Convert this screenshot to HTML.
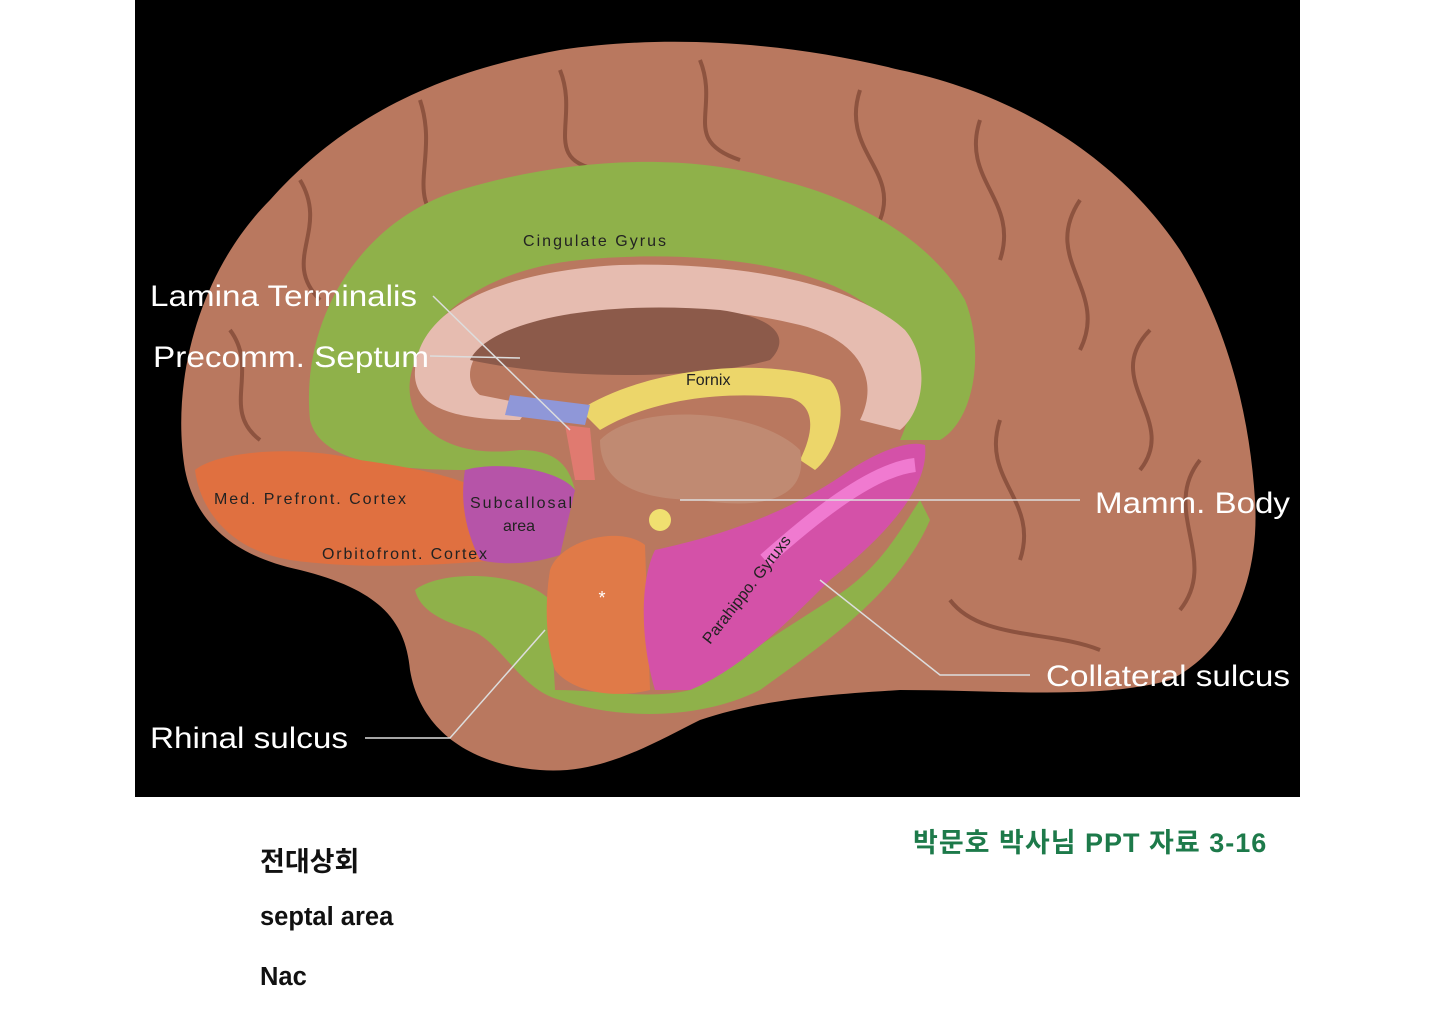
<!DOCTYPE html>
<html><head><meta charset="utf-8"><style>
body{margin:0;width:1440px;height:1018px;background:#fff;position:relative;overflow:hidden;font-family:"Liberation Sans","Noto Sans CJK KR",sans-serif}
svg{position:absolute;left:0;top:0}
.t{position:absolute;font-weight:bold;color:#111;font-family:"Liberation Sans","Noto Sans CJK KR",sans-serif}
</style></head><body>
<svg width="1440" height="1018" viewBox="0 0 1440 1018">
<rect x="135" y="0" width="1165" height="797" fill="#000"/>
<path d="M185,470 C170,380 200,270 270,200 C350,110 450,70 560,50 C660,35 780,40 900,70 C1020,95 1120,160 1180,250 C1230,330 1250,420 1255,500 C1260,580 1230,650 1170,680 C1100,700 1000,690 900,690 C820,695 760,700 700,720 C650,745 600,775 540,770 C470,765 420,730 410,670 C405,620 380,590 300,570 C230,555 195,520 185,470 Z" fill="#b9785f"/>
<g stroke="#7a4332" stroke-width="4" fill="none" opacity="0.7">
<path d="M300,180 C330,230 280,260 320,300"/><path d="M420,100 C440,160 400,200 450,230"/>
<path d="M560,70 C580,120 540,160 600,170"/><path d="M700,60 C720,110 680,140 740,160"/>
<path d="M860,90 C840,150 900,170 880,220"/><path d="M980,120 C960,180 1020,200 1000,260"/>
<path d="M1080,200 C1040,260 1110,290 1080,350"/><path d="M1150,330 C1100,380 1180,420 1140,470"/>
<path d="M1200,460 C1160,510 1220,560 1180,610"/><path d="M1000,420 C980,480 1040,500 1020,560"/>
<path d="M230,330 C260,370 220,410 260,440"/><path d="M950,600 C980,640 1050,630 1100,650"/>
</g>
<path d="M310,420 C300,320 360,220 460,190 C560,160 680,150 780,180 C860,200 930,240 965,300 C985,350 975,420 940,440 L900,440 C920,400 910,330 860,300 C800,260 680,250 580,260 C480,270 420,320 410,380 C405,420 440,460 520,450 C560,450 570,470 575,490 L470,470 C380,470 320,460 310,420 Z" fill="#8fb14a"/>
<path d="M415,370 C420,300 520,270 620,265 C730,262 850,280 905,330 C930,360 925,410 900,430 L860,420 C880,380 860,340 800,325 C700,300 580,305 510,330 C470,345 460,380 480,395 L530,405 L520,420 C460,420 412,410 415,370 Z" fill="#e6bcb0"/>
<path d="M470,360 C490,320 600,300 720,310 C780,318 790,340 770,360 C700,380 560,380 470,360 Z" fill="#8c5a4a"/>
<path d="M580,410 C640,370 760,355 830,380 C850,400 840,450 815,470 L800,460 C815,430 815,405 790,398 C720,390 650,400 600,430 Z" fill="#ecd66a"/>
<path d="M510,395 L590,405 L585,425 L505,415 Z" fill="#8f97d8"/>
<path d="M565,425 L590,428 L595,480 L575,480 Z" fill="#e07a70"/>
<path d="M600,440 C640,400 760,410 800,450 C810,500 760,510 700,500 C650,500 600,490 600,440 Z" fill="#c08a72"/>
<path d="M195,470 C220,450 300,445 360,460 C430,470 470,480 500,500 L500,560 C440,565 360,570 290,560 C230,550 200,510 195,470 Z" fill="#e07040"/>
<path d="M465,470 C500,460 560,470 575,490 L560,555 C530,565 500,565 480,560 C465,530 460,500 465,470 Z" fill="#b654a8"/>
<path d="M415,590 C440,570 520,570 550,600 L555,690 C600,690 650,700 690,690 L830,600 C880,570 900,530 920,500 L930,520 C900,590 830,640 760,690 C700,720 620,720 560,700 C520,690 500,640 470,630 C440,620 420,610 415,590 Z" fill="#8fb14a"/>
<path d="M550,570 C560,540 620,525 645,545 L650,690 C610,700 570,690 555,670 C545,640 545,600 550,570 Z" fill="#e07a48"/>
<path d="M655,550 C700,540 780,520 850,470 C880,450 910,440 925,445 C930,490 880,540 830,580 C790,620 740,670 690,690 L655,690 C640,640 640,580 655,550 Z" fill="#d451a8"/>
<path d="M765,560 C810,520 870,470 915,465" stroke="#f07ad0" stroke-width="14" fill="none"/>
<circle cx="660" cy="520" r="11" fill="#f0e070"/>
<text x="602" y="604" fill="#fff" font-size="18" text-anchor="middle">*</text>
<g stroke="#ddd" stroke-width="1.5" fill="none">
<line x1="433" y1="296" x2="570" y2="430"/>
<line x1="430" y1="356" x2="520" y2="358"/>
<line x1="680" y1="500" x2="1080" y2="500"/>
<polyline points="820,580 940,675 1030,675"/>
<polyline points="545,630 450,738 365,738"/>
</g>
<g font-family="Liberation Sans, sans-serif">
<text x="150" y="306" fill="#fff" font-size="30" textLength="267" lengthAdjust="spacingAndGlyphs">Lamina Terminalis</text>
<text x="153" y="367" fill="#fff" font-size="30" textLength="276" lengthAdjust="spacingAndGlyphs">Precomm. Septum</text>
<text x="1095" y="513" fill="#fff" font-size="30" textLength="195" lengthAdjust="spacingAndGlyphs">Mamm. Body</text>
<text x="1046" y="686" fill="#fff" font-size="30" textLength="244" lengthAdjust="spacingAndGlyphs">Collateral sulcus</text>
<text x="150" y="748" fill="#fff" font-size="30" textLength="198" lengthAdjust="spacingAndGlyphs">Rhinal sulcus</text>
<text x="523" y="246" fill="#222" font-size="16" textLength="143">Cingulate Gyrus</text>
<text x="686" y="385" fill="#222" font-size="16">Fornix</text>
<text x="214" y="504" fill="#222" font-size="16" textLength="192">Med. Prefront. Cortex</text>
<text x="322" y="559" fill="#222" font-size="16" textLength="165">Orbitofront. Cortex</text>
<text x="470" y="508" fill="#222" font-size="16" textLength="102">Subcallosal</text>
<text x="503" y="531" fill="#222" font-size="16">area</text>
<text x="0" y="0" fill="#222" font-size="16" transform="translate(710,645) rotate(-52)">Parahippo. Gyruxs</text>
</g>
</svg>
<div class="t" style="left:260px;top:840px;font-size:27px">전대상회</div>
<div class="t" style="left:260px;top:903px;font-size:25.5px">septal area</div>
<div class="t" style="left:260px;top:963px;font-size:25.5px">Nac</div>
<div class="t" style="left:913px;top:821px;font-size:27px;letter-spacing:1px;color:#1d7a4a">박문호 박사님 PPT 자료 3-16</div>
</body></html>
